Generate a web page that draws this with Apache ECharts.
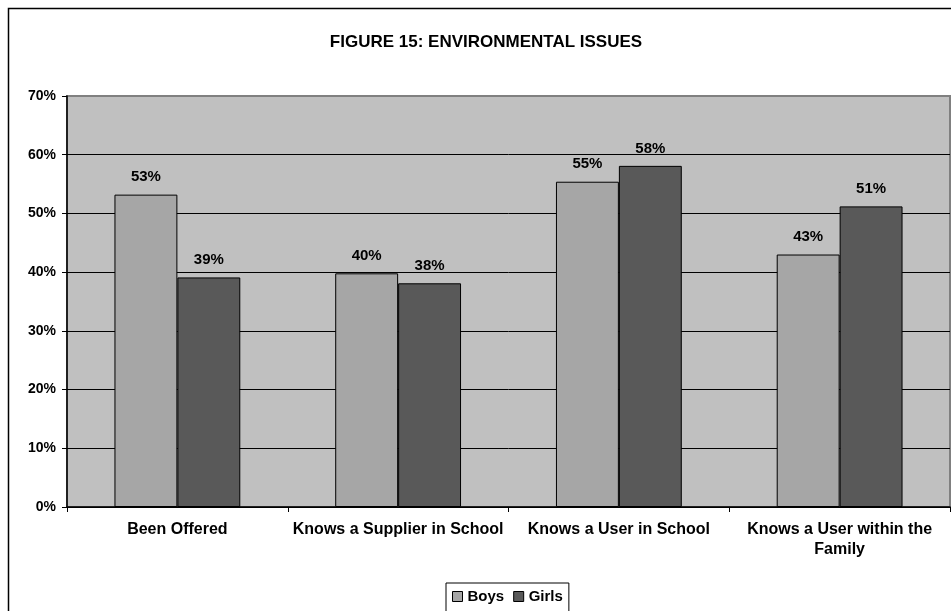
<!DOCTYPE html>
<html>
<head>
<meta charset="utf-8">
<script src="https://cdn.jsdelivr.net/npm/echarts@6/dist/echarts.min.js"></script>
<style>html,body{margin:0;padding:0;background:#fff;}#c{width:951px;height:611px;}</style>
</head>
<body>
<div id="c"></div>
<script>
var categories = ['Been Offered', 'Knows a Supplier in School', 'Knows a User in School', 'Knows a User within the\nFamily'];
var boys = [53.2, 39.8, 55.4, 43.0];
var girls = [39.1, 38.1, 58.1, 51.2];
var seriesNames = ['Boys', 'Girls'];
var yTicks = [0, 10, 20, 30, 40, 50, 60, 70];

var FONT = 'Liberation Sans, Arial, sans-serif';
var chart = echarts.init(document.getElementById('c'), null, {renderer: 'canvas'});
var gridColors = yTicks.map(function (v, i) { return i === yTicks.length - 1 ? '#808080' : '#000000'; });
var labelCfg = {
  show: true, position: 'top', distance: 10,
  fontFamily: FONT, fontWeight: 'bold', fontSize: 15, color: '#000',
  formatter: function (p) { return Math.round(p.value) + '%'; }
};
chart.setOption({
  animation: false,
  backgroundColor: '#ffffff',
  title: {
    text: 'FIGURE 15: ENVIRONMENTAL ISSUES',
    left: 481, top: 29, textAlign: 'center',
    textStyle: {fontFamily: FONT, fontWeight: 'bold', fontSize: 17, color: '#000'}
  },
  graphic: [{
    type: 'rect', left: 6, top: 6, z: -10, silent: true,
    shape: {width: 1000, height: 700},
    style: {fill: null, stroke: '#000', lineWidth: 1.5}
  }],
  legend: {
    data: seriesNames,
    left: 446, top: 583,
    padding: [6, 6, 8, 6],
    backgroundColor: '#fff', borderColor: '#000', borderWidth: 1,
    itemWidth: 10, itemHeight: 10, itemGap: 9, icon: 'rect',
    itemStyle: {borderColor: '#000', borderWidth: 1},
    textStyle: {fontFamily: FONT, fontWeight: 'bold', fontSize: 15, color: '#000'}
  },
  grid: {
    left: 67, right: 1, top: 96, bottom: 104,
    show: true, backgroundColor: '#C0C0C0', borderColor: '#808080', borderWidth: 2
  },
  xAxis: {
    type: 'category', data: categories,
    axisLine: {show: true, lineStyle: {color: '#000', width: 1.5}},
    axisTick: {show: true, length: 5, lineStyle: {color: '#000'}},
    axisLabel: {fontFamily: FONT, fontWeight: 'bold', fontSize: 16, color: '#000', margin: 13, lineHeight: 20, interval: 0}
  },
  yAxis: {
    type: 'value', min: 0, max: 70, interval: 10,
    axisLine: {show: true, lineStyle: {color: '#000', width: 1.5}},
    axisTick: {show: true, length: 5, lineStyle: {color: '#000'}},
    axisLabel: {fontFamily: FONT, fontWeight: 'bold', fontSize: 14, color: '#000', margin: 11,
      formatter: function (v) { return v + '%'; }},
    splitLine: {show: true, lineStyle: {color: gridColors, width: 1}}
  },
  series: [{
    name: seriesNames[0], type: 'bar', data: boys,
    barGap: '0%', barCategoryGap: '43%',
    itemStyle: {color: '#A6A6A6', borderColor: '#000', borderWidth: 1},
    label: labelCfg
  }, {
    name: seriesNames[1], type: 'bar', data: girls,
    barGap: '0%', barCategoryGap: '43%',
    itemStyle: {color: '#595959', borderColor: '#000', borderWidth: 1},
    label: labelCfg
  }]
});
</script>
</body>
</html>
